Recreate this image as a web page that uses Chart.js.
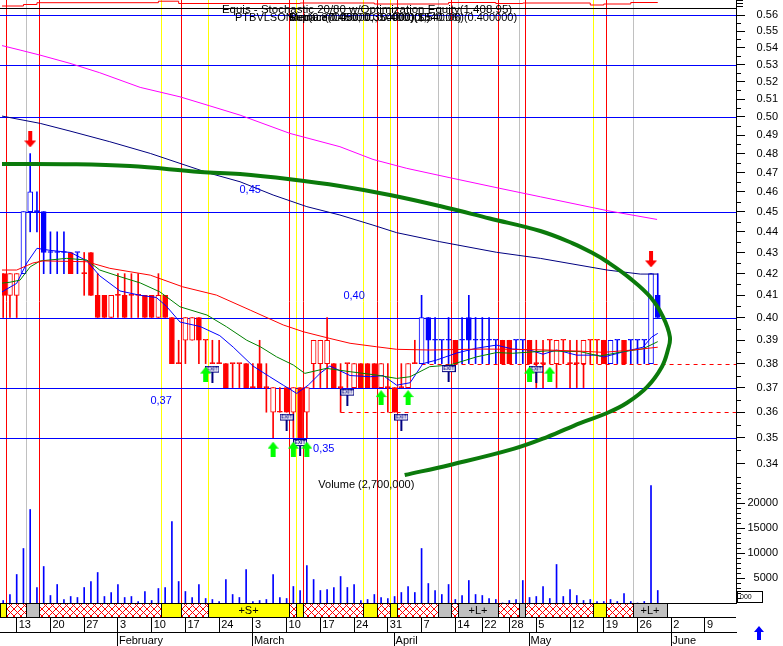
<!DOCTYPE html>
<html>
<head>
<meta charset="utf-8">
<title>PTBVLSON</title>
<script src="https://cdn.jsdelivr.net/npm/chart.js@4.4.1/dist/chart.umd.min.js"></script>
<style>
html, body { margin: 0; padding: 0; background: #fff; overflow: hidden; }
#wrap { position: relative; width: 783px; height: 646px; }
</style>
</head>
<body>
<div id="wrap"><canvas id="chart"></canvas></div>
<script>
// bar 0 = 9 Jan 2003, one slot per trading day (Good Friday, Easter Monday, 1 May skipped)
const open = [.42,.41,.41,.42,.45,.45,.45,.43,.43,.43,
  .43,.43,.42,.43,.41,.41,.40,.41,.41,.41,
  .41,.41,.41,.40,.41,.40,.38,.39,.39,.40,
  .39,.38,.38,.38,.38,.38,.38,.37,.38,.37,
  .36,.36,.37,.36,.37,.36,.38,.38,.38,.38,
  .37,.38,.37,.38,.38,.38,.37,.37,.37,.37,
  .37,.38,.38,.40,.39,.39,.39,.39,.39,.40,
  .39,.39,.39,.39,.39,.39,.39,.39,.39,.38,
  .38,.39,.38,.39,.38,.38,.38,.39,.39,.39,
  .38,.39,.39,.39,.39,.39,.38,.41];
const high = [.42,.42,.42,.45,.48,.46,.45,.44,.44,.44,
  .43,.43,.43,.43,.42,.41,.41,.42,.42,.42,
  .42,.41,.41,.42,.41,.40,.39,.40,.40,.40,
  .39,.39,.39,.38,.38,.38,.38,.38,.39,.38,
  .37,.37,.37,.37,.37,.37,.39,.39,.40,.38,
  .38,.38,.38,.38,.38,.38,.38,.38,.37,.38,
  .38,.39,.41,.40,.40,.39,.40,.39,.40,.41,
  .40,.40,.40,.39,.39,.39,.39,.39,.39,.39,
  .39,.39,.39,.39,.39,.39,.39,.39,.39,.39,
  .39,.39,.39,.39,.39,.39,.42,.42];
const low = [.40,.40,.40,.42,.44,.44,.42,.42,.42,.42,
  .42,.42,.41,.41,.40,.40,.40,.40,.40,.40,
  .40,.40,.40,.40,.40,.38,.38,.38,.39,.38,
  .38,.38,.38,.37,.37,.37,.37,.37,.37,.36,
  .35,.36,.36,.35,.35,.35,.37,.37,.37,.37,
  .36,.37,.37,.37,.37,.37,.37,.36,.36,.37,
  .37,.38,.38,.38,.38,.38,.38,.38,.38,.38,
  .38,.38,.38,.38,.38,.38,.38,.38,.38,.37,
  .37,.38,.37,.38,.37,.37,.37,.38,.38,.38,
  .38,.38,.38,.38,.38,.38,.38,.40];
const close = [.41,.42,.42,.45,.46,.45,.43,.43,.43,.43,
  .42,.43,.42,.41,.40,.40,.41,.41,.40,.41,
  .41,.40,.40,.41,.40,.38,.38,.40,.40,.39,
  .39,.38,.38,.37,.38,.38,.37,.37,.37,.37,
  .37,.36,.36,.37,.35,.37,.39,.39,.39,.37,
  .37,.38,.38,.37,.37,.37,.38,.37,.36,.37,
  .38,.38,.40,.39,.39,.39,.39,.38,.39,.39,
  .39,.39,.39,.39,.38,.38,.39,.39,.38,.38,
  .38,.39,.39,.39,.38,.38,.39,.39,.39,.38,
  .39,.39,.38,.39,.39,.39,.42,.40];
const volume = [500,1700,5700,10900,18700,3100,7300,1500,3700,700,
  1300,1100,3100,4300,6100,1300,2100,3700,1100,1300,
  300,2300,500,2900,3100,16300,4300,2300,1100,3700,
  900,700,300,4700,1700,1100,6700,300,500,700,
  5700,1100,900,3300,2500,7500,4700,2500,2700,3100,
  5300,3100,3700,500,700,1700,1100,900,1300,2100,
  3300,2100,10900,3900,2500,1700,3700,700,1500,4500,
  1700,1500,900,700,0,500,700,4500,1100,1300,
  3300,900,7700,1300,2700,1500,500,700,300,300,
  700,300,1900,300,0,300,23500,2500];
// trend colouring: [first bar, r = red / b = blue]
const trendRuns = [[0,'r'],[3,'b'],[10,'r'],[11,'b'],[12,'r'],[62,'b'],[67,'r'],[68,'b'],[74,'r'],[76,'b'],[78,'r'],[90,'b'],[92,'r'],[93,'b']];

// moving averages, [bar, price]
const fastMA = [[-0.5,0.411],[2,0.4155],[3.5,0.425],[5,0.432],[7,0.431],[10,0.430],[12.4,0.426],[14.3,0.419],[17.3,0.412],[20.3,0.410],[22.7,0.409],[24.2,0.405],[26.2,0.398],[29.2,0.396],[32.1,0.392],[34.1,0.387],[37,0.379],[39.5,0.3745],[41.5,0.371],[43.5,0.3676],[45.2,0.371],[47,0.376],[48.4,0.379],[51.4,0.375],[54.4,0.3745],[56.3,0.375],[58.3,0.371],[60.3,0.372],[62.2,0.380],[64.2,0.3815],[67.2,0.3845],[70.2,0.3866],[73.1,0.3879],[75.5,0.3862],[78,0.3858],[80,0.384],[82,0.3858],[85,0.3836],[88,0.3836],[89,0.3828],[91.9,0.385],[94.8,0.387],[96.1,0.3914],[97,0.393]];
const midMA = [[-0.5,0.4155],[1,0.416],[2.5,0.417],[4,0.4232],[5.5,0.426],[9.4,0.4272],[12.4,0.4264],[14.3,0.4217],[17.3,0.4186],[20.3,0.4157],[23.2,0.4116],[26.2,0.4048],[30.2,0.4011],[33.1,0.3959],[36.1,0.390],[38.1,0.3872],[40.5,0.3829],[43,0.3794],[44.7,0.3759],[47.9,0.378],[51.4,0.3766],[55.3,0.3752],[58.3,0.3738],[60.3,0.3745],[63.2,0.3787],[66.2,0.3794],[70.2,0.3829],[73.1,0.3847],[75.5,0.3844],[80.6,0.3854],[85.5,0.3851],[88.4,0.3832],[91.9,0.3851],[94.8,0.3863],[97,0.3894]];
const slowMA = [[-0.5,0.4217],[2,0.4217],[4.4,0.425],[5.9,0.426],[12.4,0.4256],[15.8,0.4225],[21.8,0.4193],[26.6,0.4139],[31.6,0.4101],[36.6,0.4033],[41.5,0.3967],[44.5,0.3937],[48.4,0.3908],[51.4,0.3887],[55.3,0.3872],[58.3,0.3861],[63.2,0.3858],[71.1,0.3862],[75.5,0.3861],[80.6,0.3858],[85.5,0.3853],[88.9,0.3848],[93.3,0.3858],[97,0.387]];
const longMA = [[-0.5,0.5007],[5.5,0.4964],[9.9,0.4922],[15.8,0.4864],[21.8,0.4801],[26.2,0.4748],[30.6,0.4696],[35.1,0.4652],[40,0.4584],[45,0.4525],[49.9,0.4483],[54.8,0.4433],[58.3,0.4396],[64.7,0.4352],[73.1,0.4301],[79.6,0.4272],[89.5,0.4217],[94.4,0.4198],[97,0.4198]];
const trendMA = [[-0.5,0.5416],[2.5,0.5386],[5.45,0.5356],[9.9,0.5307],[14.3,0.5252],[20.3,0.5167],[26.2,0.5113],[30.6,0.5062],[35.1,0.5010],[42.5,0.4909],[49.9,0.4837],[54.8,0.4769],[59.8,0.4722],[66.2,0.4673],[73.6,0.4618],[79.6,0.4575],[89.5,0.4505],[96.9,0.4461]];
const arc = [[-0.5,0.4745],[9.2,0.4744],[18.8,0.4734],[29.2,0.4703],[35.1,0.4692],[42.5,0.4665],[49.9,0.4630],[57.3,0.4584],[64.7,0.4528],[72.1,0.4466],[79.6,0.4404],[84.4,0.4344],[87.4,0.4296],[89.5,0.4256],[92.9,0.4178],[95.9,0.4092],[97.8,0.4002],[98.8,0.3914],[98.5,0.3858],[97.6,0.3786],[95.4,0.3702],[92.4,0.3637],[89.5,0.3597],[85.5,0.3557],[80.6,0.3502],[75.6,0.3456],[66.2,0.3395],[59.5,0.3357]];

// system equity, value from the given bar on
const eqIdx = [-1, 3, 5, 23, 26, 44, 55, 66, 73, 77, 87, 89, 93, 97];
const eqVal = [1000, 1175, 1386, 1562, 1292, 1351, 1234, 1409, 1292, 1351, 1117, 1234, 1409, 1409];
const eqTicks = [1000, 1300, 1600];

// signals
const buyIdx = [30, 40, 43, 45, 56, 60, 78, 81];
const buyPrice = [0.3756, 0.3455, 0.3455, 0.3455, 0.3659, 0.3659, 0.3756, 0.3756];
const sellIdx = [4, 96];
const sellPrice = [0.4876, 0.4267];
const exitIdx = [31, 42, 44, 51, 59, 66, 79];
const exitPrice = [0.3756, 0.3561, 0.3461, 0.3661, 0.3561, 0.3758, 0.3756];
const redLines = [0, 5, 26, 42, 44, 55, 58, 66, 73, 77, 89];
const yellowLines = [23, 30, 43, 53, 57, 87];
const greyLines = [3, 64, 67, 76, 93];

// position band under the chart
const bandFrom = [-1, 0, 3, 5, 23, 26, 30, 42, 43, 44, 53, 55, 57, 58, 64, 66, 67, 73, 76, 77, 87, 89, 93];
const bandTo   = [0, 3, 5, 23, 26, 30, 42, 43, 44, 53, 55, 57, 58, 64, 66, 67, 73, 76, 77, 87, 89, 93, 98];
const bandKind = ['S','X','L','X','S','X','S','X','S','X','S','X','S','X','L','X','L','X','L','X','S','X','L'];
const bandLabel = ['','','','','','','+S+','','','','','','','','','','+L+','','','','','','+L+'];

// horizontal levels and their notes
const blueLevels = [0.56, 0.53, 0.50, 0.45, 0.40, 0.37, 0.35];
const dashLevels = [0.38, 0.36];
const dashStart = [62, 50];
const noteText = ['0,45', '0,40', '0,37', '0,35'];
const noteIdx = [36.6, 52.0, 23.4, 47.5];
const notePrice = [0.461, 0.4097, 0.3645, 0.3456];

// axis ticks
const priceTicks = [0.34,0.35,0.36,0.37,0.38,0.39,0.40,0.41,0.42,0.43,0.44,0.45,0.46,0.47,0.48,0.49,0.50,0.51,0.52,0.53,0.54,0.55,0.56];
const volTicks = [5000, 10000, 15000, 20000];
const dayTickIdx = [2, 7, 12, 17, 22, 27, 32, 37, 42, 47, 52, 57, 62, 67, 71, 75, 79, 84, 89, 94, 99, 104];
const dayTickLabels = ['13','20','27','3','10','17','24','3','10','17','24','31','7','14','22','28','5','12','19','26','2','9'];
const monthTickIdx = [17, 37, 58, 78, 99];
const monthLabels = ['February', 'March', 'April', 'May', 'June'];

const titleLine = 'Equis - Stochastic 20/80 w/Optimization Equity(1,408.95)';
const subTitles = ['Median(0.450000, 0.400000)', 'Retrace(0.45000, 0.4000)($540.06)', 'Sup(0.370000, 0.350000)(1,540.06)(0.400000)'];
const volumeTitle = 'Volume (2,700,000)';

const FONT = '"Liberation Sans", Arial, sans-serif';
const RED = '#ff0000', BLUE = '#0000ff', NAVY = '#000080';
const lineShift = 2.5;

function barColor(i) {
  let c = 'r';
  for (const [s, v] of trendRuns) { if (i >= s) c = v; }
  return c === 'b' ? BLUE : RED;
}
const pts = arr => arr.map(([x, y]) => ({ x, y }));

function arrowImg(color, up, w, h) {
  const c = document.createElement('canvas');
  c.width = w; c.height = h;
  const g = c.getContext('2d');
  const hh = Math.round(h * 0.45), s0 = Math.round(w * 0.3), s1 = w - s0;
  g.fillStyle = color;
  g.beginPath();
  if (up) {
    g.moveTo(w / 2, 0); g.lineTo(w, hh); g.lineTo(s1, hh); g.lineTo(s1, h); g.lineTo(s0, h); g.lineTo(s0, hh); g.lineTo(0, hh);
  } else {
    g.moveTo(w / 2, h); g.lineTo(w, h - hh); g.lineTo(s1, h - hh); g.lineTo(s1, 0); g.lineTo(s0, 0); g.lineTo(s0, h - hh); g.lineTo(0, h - hh);
  }
  g.closePath(); g.fill();
  return c;
}
function exitImg() {
  const c = document.createElement('canvas');
  c.width = 14; c.height = 17;
  const g = c.getContext('2d');
  g.fillStyle = '#fff'; g.fillRect(0, 0, 14, 7);
  g.strokeStyle = NAVY; g.lineWidth = 1; g.strokeRect(0.5, 0.5, 13, 6);
  g.fillStyle = NAVY; g.font = 'bold 5px sans-serif'; g.textAlign = 'center'; g.textBaseline = 'middle';
  g.fillText('EXIT', 7, 4);
  g.fillRect(6, 7, 2, 10);
  return c;
}

const px = v => Math.round(v) + 0.5;
function hLine(ctx, x0, x1, y) { ctx.beginPath(); ctx.moveTo(x0, y); ctx.lineTo(x1, y); ctx.stroke(); }
function vLine(ctx, x, y0, y1) { ctx.beginPath(); ctx.moveTo(x, y0); ctx.lineTo(x, y1); ctx.stroke(); }

const overlay = {
  id: 'overlay',
  beforeDatasetsDraw(chart) {
    const { ctx, chartArea: a, scales } = chart;
    const x = scales.x, y = scales.y;
    ctx.save();
    ctx.lineWidth = 1;
    [[greyLines, '#c0c0c0'], [yellowLines, '#ffff00'], [redLines, RED]].forEach(([list, col]) => {
      ctx.strokeStyle = col;
      list.forEach(i => vLine(ctx, px(x.getPixelForValue(i) + lineShift), 0, a.bottom));
    });
    ctx.strokeStyle = BLUE;
    blueLevels.forEach(v => hLine(ctx, 0, a.right, px(y.getPixelForValue(v))));
    ctx.strokeStyle = RED;
    ctx.setLineDash([4, 4]);
    dashLevels.forEach((v, k) => hLine(ctx, x.getPixelForValue(dashStart[k]), a.right, px(y.getPixelForValue(v))));
    ctx.setLineDash([]);
    ctx.strokeStyle = '#000';
    hLine(ctx, 0, a.right, px(y.top));
    ctx.restore();
  },
  afterDatasetsDraw(chart) {
    const { ctx, chartArea: a, scales } = chart;
    const x = scales.x, y = scales.y, yv = scales.yv;
    ctx.save();
    ctx.font = '11px ' + FONT;
    ctx.textBaseline = 'middle';
    ctx.textAlign = 'center';
    ctx.fillStyle = BLUE;
    noteText.forEach((t, k) => ctx.fillText(t, x.getPixelForValue(noteIdx[k]), y.getPixelForValue(notePrice[k])));
    ctx.fillStyle = '#000';
    ctx.textAlign = 'left';
    ctx.fillText(volumeTitle, x.getPixelForValue(46.7), yv.getPixelForValue(23600));
    const cx = (a.left + a.right) / 2 - 2;
    ctx.textAlign = 'center';
    ctx.font = '11.5px ' + FONT;
    ctx.fillText(titleLine, cx, 10);
    ctx.font = '11px ' + FONT;
    ctx.textAlign = 'left';
    ctx.fillText('PTBVLSON', 235, 18);
    subTitles.forEach(t => ctx.fillText(t, 289, 18));
    ctx.restore();
  },
  afterDraw(chart) {
    const { ctx, chartArea: a, scales } = chart;
    const x = scales.x, y = scales.y, yv = scales.yv;
    const top = a.bottom, h = 14;
    ctx.save();
    ctx.lineWidth = 1;
    // position band
    ctx.fillStyle = '#fff';
    ctx.fillRect(0, top + 1, a.right, h - 1);
    const g = document.createElement('canvas');
    g.width = 7; g.height = 7;
    const gc = g.getContext('2d');
    gc.fillStyle = '#fff'; gc.fillRect(0, 0, 7, 7);
    gc.strokeStyle = RED; gc.beginPath();
    gc.moveTo(0, 0); gc.lineTo(7, 7); gc.moveTo(7, 0); gc.lineTo(0, 7); gc.stroke();
    const hatch = ctx.createPattern(g, 'repeat');
    ctx.font = '11px ' + FONT;
    ctx.textAlign = 'center'; ctx.textBaseline = 'middle';
    for (let k = 0; k < bandFrom.length; k++) {
      const x0 = Math.max(0, Math.round(x.getPixelForValue(bandFrom[k]) + lineShift));
      const x1 = Math.round(x.getPixelForValue(bandTo[k]) + lineShift);
      ctx.fillStyle = bandKind[k] === 'S' ? '#ffff00' : bandKind[k] === 'L' ? '#c0c0c0' : hatch;
      ctx.fillRect(x0, top, x1 - x0, h);
      ctx.strokeStyle = '#000';
      ctx.strokeRect(x0 + 0.5, top + 0.5, x1 - x0, h);
      if (bandLabel[k]) { ctx.fillStyle = '#000'; ctx.fillText(bandLabel[k], (x0 + x1) / 2, top + h / 2 + 1); }
    }
    ctx.strokeStyle = '#000';
    hLine(ctx, 0, a.right, top + 0.5);
    hLine(ctx, 0, a.right, top + h + 0.5);
    hLine(ctx, 0, a.right, top + 29 + 0.5);
    // minor ticks on the right axis
    for (let k = 0; k < 23; k++) hLine(ctx, a.right, a.right + 5, px(y.getPixelForValue((335 + 10 * k) / 1000)));
    for (let k = 1; k < 25; k++) if (k % 5) hLine(ctx, a.right, a.right + 5, px(yv.getPixelForValue(k * 1000)));
    // scroll box and arrow at the bottom right
    ctx.strokeRect(a.right + 1.5, top - 11.5, 25, 11);
    ctx.fillStyle = '#000';
    ctx.font = '7px ' + FONT;
    ctx.textAlign = 'left';
    ctx.fillText('000', a.right + 4, top - 6);
    ctx.fillStyle = BLUE;
    ctx.beginPath();
    ctx.moveTo(759, 626); ctx.lineTo(764, 632); ctx.lineTo(761, 632); ctx.lineTo(761, 640);
    ctx.lineTo(757, 640); ctx.lineTo(757, 632); ctx.lineTo(754, 632); ctx.closePath(); ctx.fill();
    ctx.restore();
  }
};

const noPad = s => { s.paddingTop = 0; s.paddingBottom = 0; s.paddingLeft = 0; s.paddingRight = 0; };
const tickFont = { size: 11, family: FONT };

new Chart(document.getElementById('chart'), {
  type: 'bar',
  data: {
    datasets: [
      { type: 'bar', label: 'Volume', data: volume.map((v, i) => ({ x: i, y: v })), xAxisID: 'x', yAxisID: 'yv',
        backgroundColor: BLUE, barThickness: 1, grouped: false, order: 9 },
      { type: 'bar', label: 'Range', data: low.map((l, i) => ({ x: i, y: [l, high[i]] })), xAxisID: 'x', yAxisID: 'y',
        backgroundColor: c => barColor(c.dataIndex), barThickness: 1, grouped: false, order: 8 },
      { type: 'bar', label: 'Body', data: open.map((o, i) => ({ x: i, y: [o, close[i]] })), xAxisID: 'x', yAxisID: 'y',
        backgroundColor: c => close[c.dataIndex] > open[c.dataIndex] ? '#ffffff' : barColor(c.dataIndex),
        borderColor: c => barColor(c.dataIndex), borderWidth: 1, borderSkipped: false,
        barThickness: 5, minBarLength: 1, grouped: false, order: 7 },
      { type: 'line', label: 'MA long', data: pts(trendMA), xAxisID: 'x', yAxisID: 'y', borderColor: '#ff00ff', borderWidth: 1, pointRadius: 0, order: 6 },
      { type: 'line', label: 'MA mid-long', data: pts(longMA), xAxisID: 'x', yAxisID: 'y', borderColor: NAVY, borderWidth: 1, pointRadius: 0, order: 6 },
      { type: 'line', label: 'MA slow', data: pts(slowMA), xAxisID: 'x', yAxisID: 'y', borderColor: RED, borderWidth: 1, pointRadius: 0, order: 5 },
      { type: 'line', label: 'MA mid', data: pts(midMA), xAxisID: 'x', yAxisID: 'y', borderColor: '#008000', borderWidth: 1, pointRadius: 0, order: 5 },
      { type: 'line', label: 'MA fast', data: pts(fastMA), xAxisID: 'x', yAxisID: 'y', borderColor: BLUE, borderWidth: 1, pointRadius: 0, order: 5 },
      { type: 'line', label: 'Arc', data: pts(arc), xAxisID: 'x', yAxisID: 'y', borderColor: '#0b7a0b', borderWidth: 4, pointRadius: 0, tension: 0.4, order: 4 },
      { type: 'line', label: 'Equity', data: eqIdx.map((i, k) => ({ x: i, y: eqVal[k] })), xAxisID: 'x', yAxisID: 'yTop',
        borderColor: RED, borderWidth: 1, pointRadius: 0, stepped: 'before', order: 2 },
      { type: 'scatter', label: 'Buy', data: buyIdx.map((i, k) => ({ x: i, y: buyPrice[k] })), xAxisID: 'x', yAxisID: 'y',
        pointStyle: arrowImg('#00ff00', true, 11, 15), pointRadius: 6, order: 1 },
      { type: 'scatter', label: 'Sell', data: sellIdx.map((i, k) => ({ x: i, y: sellPrice[k] })), xAxisID: 'x', yAxisID: 'y',
        pointStyle: arrowImg(RED, false, 12, 16), pointRadius: 6, order: 1 },
      { type: 'scatter', label: 'Exit', data: exitIdx.map((i, k) => ({ x: i, y: exitPrice[k] })), xAxisID: 'x', yAxisID: 'y',
        pointStyle: exitImg(), pointRadius: 6, order: 1 }
    ]
  },
  options: {
    responsive: true,
    maintainAspectRatio: false,
    animation: false,
    events: [],
    layout: { autoPadding: false, padding: { left: 2, right: 5, top: 0, bottom: 0 } },
    plugins: { legend: { display: false }, tooltip: { enabled: false } },
    scales: {
      x: {
        type: 'linear', position: 'bottom', min: -0.178, max: 108.595, offset: false, bounds: 'data',
        afterBuildTicks: s => { s.ticks = dayTickIdx.map(v => ({ value: v })); },
        afterFit: s => { s.height = 29; noPad(s); },
        grid: { offset: false, drawOnChartArea: false, drawTicks: true, tickLength: 29, color: '#000' },
        border: { color: '#000' },
        ticks: { autoSkip: false, maxRotation: 0, align: 'start', padding: -14, labelOffset: 2, color: '#000', font: tickFont,
          callback: (v, i) => dayTickLabels[i] }
      },
      xm: {
        type: 'linear', position: 'bottom', min: -0.178, max: 108.595, offset: false, bounds: 'data',
        afterBuildTicks: s => { s.ticks = monthTickIdx.map(v => ({ value: v })); },
        afterFit: s => { s.height = 14; noPad(s); },
        grid: { offset: false, drawOnChartArea: false, drawTicks: true, tickLength: 14, color: '#000' },
        border: { color: '#000' },
        ticks: { autoSkip: false, maxRotation: 0, align: 'start', padding: -12, labelOffset: 1, color: '#000', font: tickFont,
          callback: (v, i) => monthLabels[i] }
      },
      yTop: {
        type: 'linear', position: 'right', stack: 'r', stackWeight: 8, min: 766, max: 1702, bounds: 'data',
        afterBuildTicks: s => { s.ticks = eqTicks.map(v => ({ value: v })); },
        afterFit: s => { s.width = 42; noPad(s); },
        grid: { drawOnChartArea: false, tickLength: 7, color: '#000' },
        ticks: { display: false }, border: { color: '#000' }
      },
      y: {
        type: 'logarithmic', position: 'right', stack: 'r', stackWeight: 470, min: 0.3346, max: 0.5644, bounds: 'data',
        afterBuildTicks: s => { s.ticks = priceTicks.map(v => ({ value: v })); },
        afterFit: s => { s.width = 42; noPad(s); },
        grid: { drawOnChartArea: false, tickLength: 9, color: '#000' },
        border: { color: '#000' },
        ticks: { autoSkip: false, crossAlign: 'far', padding: 12, color: '#000', font: tickFont,
          callback: v => Number(v).toFixed(2) }
      },
      yv: {
        type: 'linear', position: 'right', stack: 'r', stackWeight: 125, min: 0, max: 25000, bounds: 'data',
        afterBuildTicks: s => { s.ticks = volTicks.map(v => ({ value: v })); },
        afterFit: s => { s.width = 42; noPad(s); },
        grid: { drawOnChartArea: false, tickLength: 9, color: '#000' },
        border: { color: '#000' },
        ticks: { autoSkip: false, crossAlign: 'far', padding: 2, color: '#000', font: tickFont,
          callback: v => String(v) }
      }
    }
  },
  plugins: [overlay]
});
</script>
</body>
</html>
